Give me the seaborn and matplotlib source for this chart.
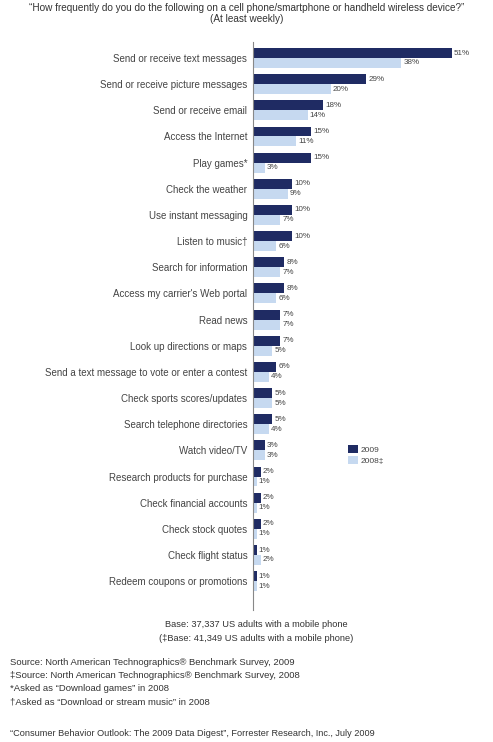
import matplotlib
matplotlib.use("Agg")
import matplotlib.pyplot as plt
import pandas as pd
import seaborn as sns

categories = [
    "Send or receive text messages",
    "Send or receive picture messages",
    "Send or receive email",
    "Access the Internet",
    "Play games*",
    "Check the weather",
    "Use instant messaging",
    "Listen to music\u2020",
    "Search for information",
    "Access my carrier's Web portal",
    "Read news",
    "Look up directions or maps",
    "Send a text message to vote or enter a contest",
    "Check sports scores/updates",
    "Search telephone directories",
    "Watch video/TV",
    "Research products for purchase",
    "Check financial accounts",
    "Check stock quotes",
    "Check flight status",
    "Redeem coupons or promotions",
]
values_2009 = [51, 29, 18, 15, 15, 10, 10, 10, 8, 8, 7, 7, 6, 5, 5, 3, 2, 2, 2, 1, 1]
values_2008 = [38, 20, 14, 11, 3, 9, 7, 6, 7, 6, 7, 5, 4, 5, 4, 3, 1, 1, 1, 2, 1]
series = ["2009", "2008\u2021"]

df = pd.DataFrame({
    "activity": categories * 2,
    "pct": values_2009 + values_2008,
    "year": [series[0]] * len(categories) + [series[1]] * len(categories),
})

sns.set_style("white")
plt.rcParams["font.family"] = ["Liberation Sans", "DejaVu Sans"]

fig = plt.figure(figsize=(4.93, 7.42), dpi=100)
ax = fig.add_axes([0.513, 0.178, 0.475, 0.765])

palette = {series[0]: "#1f2b63", series[1]: "#c6d9f0"}
sns.barplot(data=df, y="activity", x="pct", hue="year", palette=palette,
            orient="h", width=0.76, ax=ax, edgecolor="none", saturation=1)

for cont in ax.containers:
    ax.bar_label(cont, labels=[f"{v:g}%" for v in cont.datavalues],
                 padding=1.5, fontsize=5.8, color="#444444")

ax.set_xlim(0, 60)
ax.set_xlabel("")
ax.set_ylabel("")
ax.set_xticks([])
ax.tick_params(axis="y", length=0, pad=4, labelsize=7.0, labelcolor="#444444")
for s in ["top", "right", "bottom"]:
    ax.spines[s].set_visible(False)
ax.spines["left"].set_color("#888888")
ax.spines["left"].set_linewidth(0.8)
ax.set_ylim(21.1, -0.6)

ax.legend(loc="upper left", bbox_to_anchor=(0.69, 0.41), bbox_transform=fig.transFigure,
          frameon=False, fontsize=6, handlelength=1.2, handleheight=1.0,
          labelspacing=0.3, handletextpad=0.4, labelcolor="#444444")

fig.text(0.5, 0.989, "\u201cHow frequently do you do the following on a cell phone/smartphone or handheld wireless device?\u201d",
         ha="center", va="center", fontsize=7.2, color="#333333")
fig.text(0.5, 0.974, "(At least weekly)", ha="center", va="center", fontsize=7.2, color="#333333")

fig.text(0.52, 0.158, "Base: 37,337 US adults with a mobile phone", ha="center", va="center",
         fontsize=6.7, color="#333333")
fig.text(0.52, 0.139, "(\u2021Base: 41,349 US adults with a mobile phone)", ha="center", va="center",
         fontsize=6.7, color="#333333")

notes = [
    "Source: North American Technographics\u00ae Benchmark Survey, 2009",
    "\u2021Source: North American Technographics\u00ae Benchmark Survey, 2008",
    "*Asked as \u201cDownload games\u201d in 2008",
    "\u2020Asked as \u201cDownload or stream music\u201d in 2008",
]
for i, t in enumerate(notes):
    fig.text(0.02, 0.107 - i * 0.0175, t, ha="left", va="center", fontsize=6.8, color="#333333")

fig.text(0.02, 0.011, "\u201cConsumer Behavior Outlook: The 2009 Data Digest\u201d, Forrester Research, Inc., July 2009",
         ha="left", va="center", fontsize=6.6, color="#333333")

fig.savefig("out.png", dpi=100, facecolor="white")
